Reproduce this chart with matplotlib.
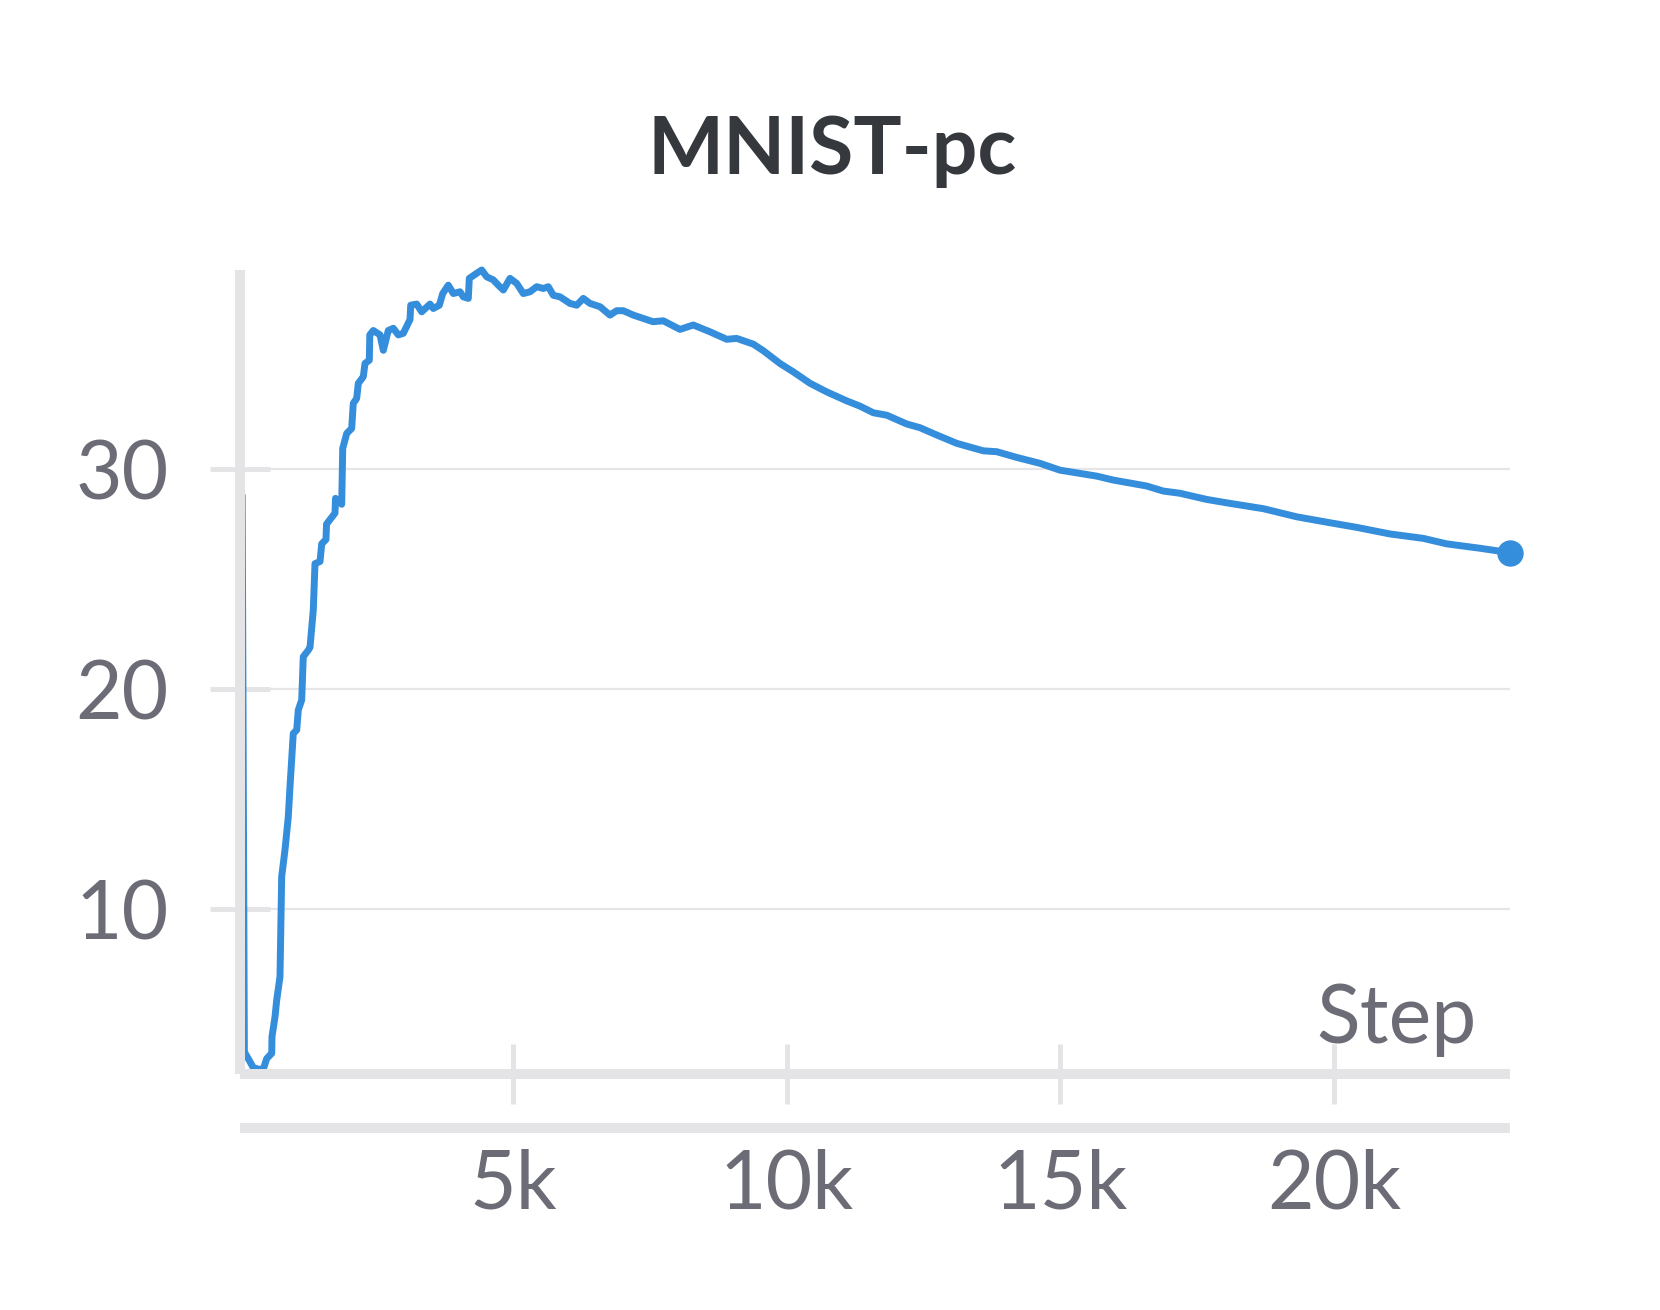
import matplotlib
matplotlib.use("Agg")
import matplotlib.pyplot as plt

plt.rcParams['font.family'] = ['Lato', 'DejaVu Sans']

title = "MNIST-pc"
x_label = "Step"
x_ticks = [5000, 10000, 15000, 20000]
x_tick_labels = ["5k", "10k", "15k", "20k"]
y_ticks = [10, 20, 30]
y_tick_labels = ["10", "20", "30"]

steps = [40, 80, 150, 240, 330, 426, 488, 580, 585, 640, 671, 731, 762, 823, 883,
         914, 974, 1037, 1066, 1128, 1157, 1249, 1280, 1340, 1371, 1463, 1494, 1572,
         1582, 1645, 1737, 1746, 1859, 1878, 1951, 2042, 2071, 2133, 2163, 2254, 2285,
         2364, 2373, 2437, 2560, 2620, 2711, 2803, 2894, 2985, 3108, 3121, 3230, 3322,
         3474, 3534, 3644, 3706, 3808, 3900, 4022, 4082, 4174, 4192, 4327, 4419, 4510,
         4631, 4722, 4814, 4936, 5059, 5179, 5302, 5424, 5545, 5636, 5728, 5850, 6033,
         6156, 6276, 6399, 6582, 6764, 6887, 7007, 7190, 7373, 7550, 7739, 8044, 8287,
         8592, 8898, 9081, 9384, 9567, 9872, 10115, 10421, 10726, 11092, 11335, 11578,
         11823, 12189, 12432, 12737, 13103, 13346, 13589, 13834, 14200, 14626, 14991,
         15357, 15662, 15966, 16576, 16880, 17185, 17673, 18099, 18708, 19318, 19927,
         20415, 21024, 21633, 22061, 22670, 23218]
values = [28.7, 3.5, 3.2, 2.8, 2.72, 2.72, 3.2, 3.44, 4.2, 5.1, 5.86, 6.92, 11.47, 12.7, 14.2,
          15.56, 17.98, 18.14, 19.05, 19.5, 21.47, 21.77, 21.9, 23.6, 25.7, 25.8, 26.6, 26.8,
          27.5, 27.7, 28.0, 28.67, 28.4, 30.94, 31.62, 31.85, 32.99, 33.21, 33.9, 34.2, 34.8,
          34.95, 36.1, 36.3, 36.1, 35.4, 36.3, 36.4, 36.1, 36.17, 36.8, 37.45, 37.5, 37.15,
          37.5, 37.3, 37.45, 37.98, 38.36, 37.98, 38.06, 37.83, 37.76, 38.67, 38.9, 39.05, 38.74,
          38.6, 38.36, 38.14, 38.67, 38.44, 37.98, 38.06, 38.29, 38.21, 38.29, 37.9, 37.83, 37.53,
          37.45, 37.76, 37.53, 37.38, 37.0, 37.2, 37.2, 37.0, 36.85, 36.7, 36.74, 36.35, 36.55,
          36.24, 35.9, 35.94, 35.68, 35.38, 34.8, 34.42, 33.9, 33.51, 33.1, 32.86, 32.56,
          32.45, 32.05, 31.88, 31.55, 31.17, 31.0, 30.83, 30.79, 30.53, 30.26, 29.95,
          29.8, 29.68, 29.5, 29.23, 29.0, 28.9, 28.62, 28.44, 28.2, 27.83, 27.56,
          27.35, 27.05, 26.85, 26.6, 26.4, 26.2]

line_color = "#358edb"
axis_color = "#e4e4e7"
grid_color = "#e6e6e8"
label_color = "#6c6c77"
title_color = "#35383c"

W, H = 1660, 1310
fig = plt.figure(figsize=(W / 100, H / 100), dpi=100)
L, R, T, B = 240, 1510, 270, 1074
ax = fig.add_axes([L / W, 1 - B / H, (R - L) / W, (B - T) / H])

ax.plot(steps, values, color=line_color, lw=5.0, solid_joinstyle='round', zorder=2, clip_on=False)
ax.plot(steps[-1:], values[-1:], 'o', color=line_color, ms=18, zorder=3, clip_on=False)

ax.set_xlim(0, 23218)
ax.set_ylim(2.5, 39.05)

for s in ['top', 'right']:
    ax.spines[s].set_visible(False)
for s in ['left', 'bottom']:
    ax.spines[s].set_color(axis_color)
    ax.spines[s].set_linewidth(7.2)
    ax.spines[s].set_capstyle('butt')
    ax.spines[s].set_zorder(2.5)

ax.set_xticks(x_ticks)
ax.set_xticklabels(x_tick_labels)
ax.set_yticks(y_ticks)
ax.set_yticklabels(y_tick_labels)
ax.tick_params(axis='both', direction='inout', length=43, width=3.6, color=axis_color,
               labelcolor=label_color, labelsize=58)
ax.tick_params(axis='x', pad=32)
ax.tick_params(axis='y', pad=30)

ax.yaxis.grid(True, color=grid_color, lw=1.6)
ax.xaxis.grid(False)
ax.set_axisbelow(True)

# second baseline bar under the axis
ax.plot([0, 1], [-0.0672, -0.0672], transform=ax.transAxes, color=axis_color, lw=7.2,
        clip_on=False, solid_capstyle='butt')

fig.text(832.5 / W, 1 - 174 / H, title, ha='center', va='baseline', fontsize=58,
         fontweight='bold', color=title_color)
fig.text(1477 / W, 1 - 1043 / H, x_label, ha='right', va='baseline', fontsize=58,
         color=label_color)

fig.savefig("out.png", dpi=100, facecolor='white')
